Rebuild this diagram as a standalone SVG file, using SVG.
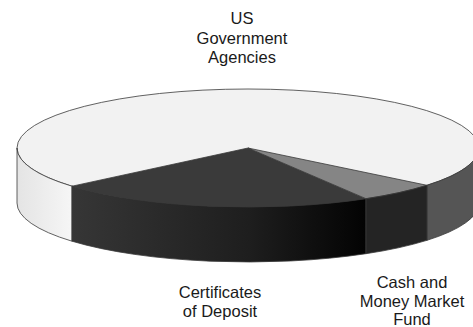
<svg xmlns="http://www.w3.org/2000/svg" width="473" height="327" viewBox="0 0 473 327">
<defs>
<linearGradient id="gDark" x1="72" y1="0" x2="366" y2="0" gradientUnits="userSpaceOnUse">
<stop offset="0" stop-color="#363636"/>
<stop offset="0.6" stop-color="#1e1e1e"/>
<stop offset="1" stop-color="#030303"/>
</linearGradient>
<linearGradient id="gLight" x1="17" y1="0" x2="72" y2="0" gradientUnits="userSpaceOnUse">
<stop offset="0" stop-color="#e4e4e4"/>
<stop offset="1" stop-color="#f6f6f6"/>
</linearGradient>
</defs>
<style>
.edge{stroke:#3a3a3a;stroke-width:0.8;stroke-linejoin:round}
.lbl{font-family:"Liberation Sans",Arial,sans-serif;font-size:16.5px;fill:#1a1a1a;text-anchor:middle}
</style>
<rect width="473" height="327" fill="#ffffff"/>
<g id="us-government-agencies">
<ellipse cx="248" cy="148" rx="231" ry="59" fill="#f2f2f2" class="edge"/>
<path d="M17,148 L17,203 A231 59 0 0 0 72,241.2 L72,186.2 A231 59 0 0 1 17,148 Z" fill="url(#gLight)" class="edge"/>
<path d="M427,185.3 L427,240.3 A231 59 0 0 0 479,203 L479,148 A231 59 0 0 1 427,185.3 Z" fill="#555555" class="edge"/>
<text class="lbl" x="242" y="24">US</text>
<text class="lbl" x="242" y="44">Government</text>
<text class="lbl" x="242" y="63">Agencies</text>
</g>
<g id="certificates-of-deposit">
<path d="M248,148 L72,186.2 A231 59 0 0 0 366,198.7 Z" fill="#3a3a3a" class="edge"/>
<path d="M72,186.2 L72,241.2 A231 59 0 0 0 366,253.7 L366,198.7 A231 59 0 0 1 72,186.2 Z" fill="url(#gDark)" class="edge"/>
<text class="lbl" x="220" y="298">Certificates</text>
<text class="lbl" x="220" y="317">of Deposit</text>
</g>
<g id="cash-and-money-market-fund">
<path d="M248,148 L366,198.7 A231 59 0 0 0 427,185.3 Z" fill="#858585" class="edge"/>
<path d="M366,198.7 L366,253.7 A231 59 0 0 0 427,240.3 L427,185.3 A231 59 0 0 1 366,198.7 Z" fill="#242424" class="edge"/>
<text class="lbl" x="412" y="288">Cash and</text>
<text class="lbl" x="412" y="307">Money Market</text>
<text class="lbl" x="412" y="325">Fund</text>
</g>
<g id="connectors"/>
</svg>
